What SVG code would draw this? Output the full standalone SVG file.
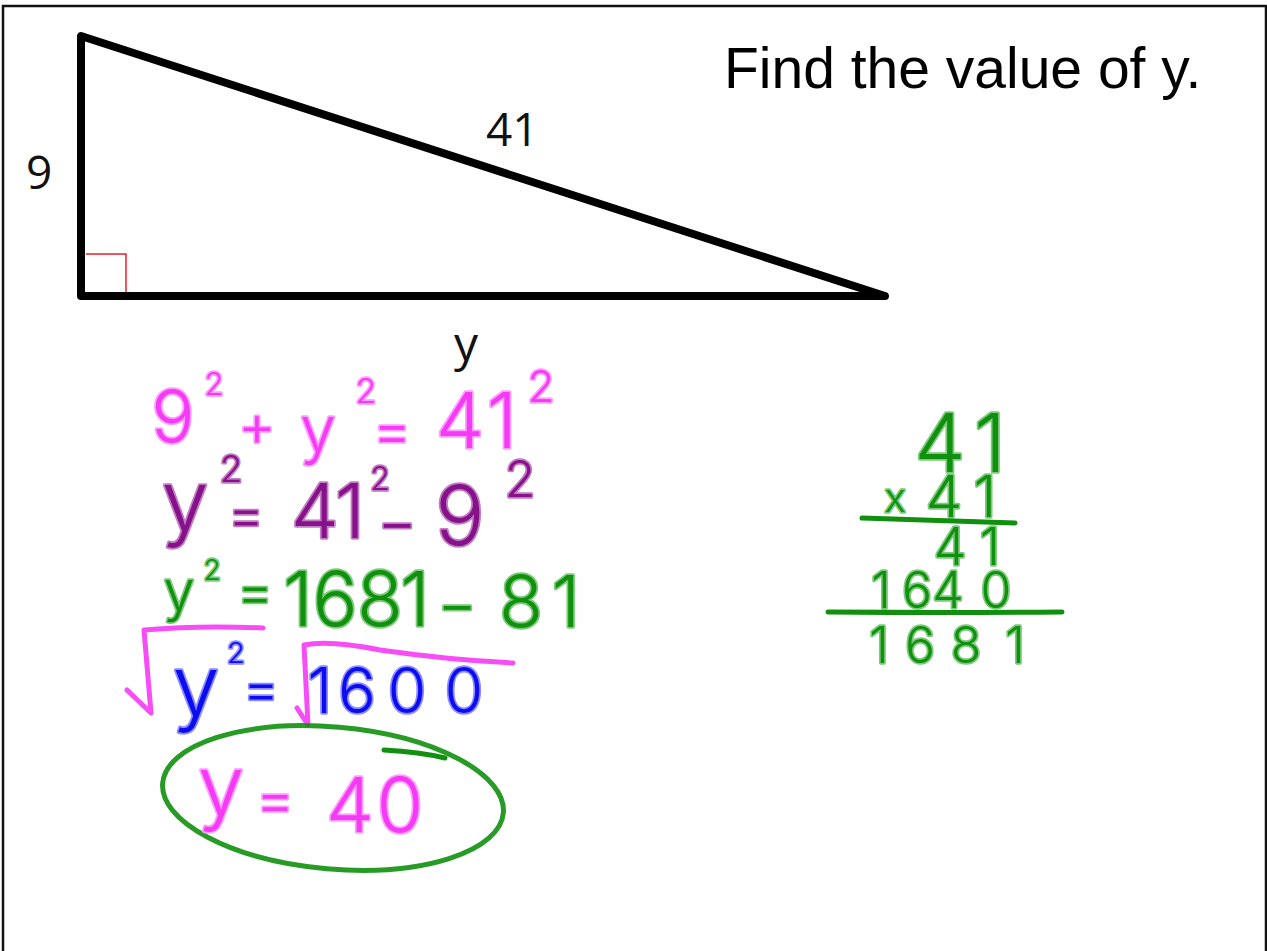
<svg xmlns="http://www.w3.org/2000/svg" width="1267" height="951" viewBox="0 0 1267 951">
<style>
.hw{font-family:Inter,"Open Sans","Liberation Sans",sans-serif;font-weight:300;text-anchor:middle;paint-order:stroke;stroke-linejoin:round;stroke-linecap:round;stroke-width:3.5}
.pk{fill:#f53af5;stroke:#ff9cff}
.pu{fill:#86128a;stroke:#c27cc4}
.gr{fill:#11900f;stroke:#7ccb7a}
.bl{fill:#0c0cf0;stroke:#8c8cff}
.lbl{font-family:"Open Sans","DejaVu Sans",sans-serif;fill:#111}
.ink{fill:none;stroke-linecap:round;stroke-linejoin:round}
</style>
<rect x="0" y="0" width="1267" height="951" fill="#fff"/>
<g id="frame"><path d="M3,960 V6 H1266 V960" fill="none" stroke="#111" stroke-width="2.5"/></g>
<g id="triangle">
<path d="M81,36 L81,296 L885,296 Z" fill="none" stroke="#000" stroke-width="8" stroke-linejoin="round"/>
<path d="M86,254 H126 V292" fill="none" stroke="#e8202a" stroke-width="1.5"/>
</g>
<g id="labels">
<text class="lbl" x="26" y="189" font-size="46">9</text>
<text class="lbl" x="486" y="146" font-size="46">41</text>
<text class="lbl" x="454" y="361" font-size="48">y</text>
<text x="724" y="88" font-family="'Liberation Sans',Arial,sans-serif" font-size="57" fill="#000">Find the value of y.</text>
</g>
<g id="line1" class="hw pk">
<text x="173" y="442" font-size="72">9</text>
<text x="214" y="395" font-size="31">2</text>
<text x="257" y="446" font-size="58">+</text>
<text x="318" y="452" font-size="64">y</text>
<text x="366" y="403" font-size="34">2</text>
<text x="392" y="451" font-size="60">=</text>
<text x="460 502" y="448" font-size="77">41</text>
<text x="541" y="402" font-size="44">2</text>
</g>
<g id="line2" class="hw pu">
<text x="185" y="531" font-size="84">y</text>
<text x="231" y="482" font-size="37">2</text>
<text x="246" y="534" font-size="56">=</text>
<text x="315 350" y="538" font-size="76">41</text>
<text x="380" y="490" font-size="32">2</text>
<text x="397" y="543" font-size="60">−</text>
<text x="460" y="545" font-size="82">9</text>
<text x="520" y="497" font-size="50">2</text>
</g>
<g id="line3" class="hw gr">
<text x="179" y="611" font-size="56">y</text>
<text x="212" y="580" font-size="28">2</text>
<text x="255" y="611" font-size="56">=</text>
<text x="298 335 380 415" y="626" font-size="75">1681</text>
<text x="457" y="625" font-size="60">−</text>
<text x="521 566" y="627" font-size="72">81</text>
</g>
<g id="roots" class="ink" stroke="#f53af5" stroke-width="5" stroke-opacity="0.9">
<path d="M127,690 L151,713 L144,630 Q200,625 263,628"/>
<path d="M297,708 L308,725 L304,645 Q330,640 380,650 Q450,660 513,663"/>
</g>
<g id="line4" class="hw bl">
<text x="196" y="716" font-size="84">y</text>
<text x="236" y="663" font-size="29">2</text>
<text x="261" y="708" font-size="56">=</text>
<text x="320 357 407 464" y="713" font-size="63">1600</text>
</g>
<g id="answer">
<ellipse cx="333" cy="798" rx="171" ry="71" transform="rotate(5 333 798)" fill="none" stroke="#11900f" stroke-width="5" stroke-opacity="0.9"/>
<path class="ink" d="M384,750 Q420,752 445,758" stroke="#11900f" stroke-width="5"/>
<g class="hw pk">
<text x="221" y="815" font-size="83">y</text>
<text x="275" y="820" font-size="60">=</text>
<text x="350 400" y="832" font-size="76">40</text>
</g>
</g>
<g id="multiplication" class="hw gr">
<text x="940 990" y="472" font-size="81">41</text>
<text x="895" y="512" font-size="40">x</text>
<text x="944 985" y="517" font-size="58">41</text>
<path class="ink" d="M862,518 L1015,523" stroke="#11900f" stroke-width="5"/>
<text x="950 990" y="565" font-size="52">41</text>
<text x="881 917 948 996" y="608" font-size="50">1640</text>
<path class="ink" d="M828,612 Q950,613 1062,612" stroke="#11900f" stroke-width="5"/>
<text x="879 920 966 1015" y="663" font-size="50">1681</text>
</g>
</svg>
